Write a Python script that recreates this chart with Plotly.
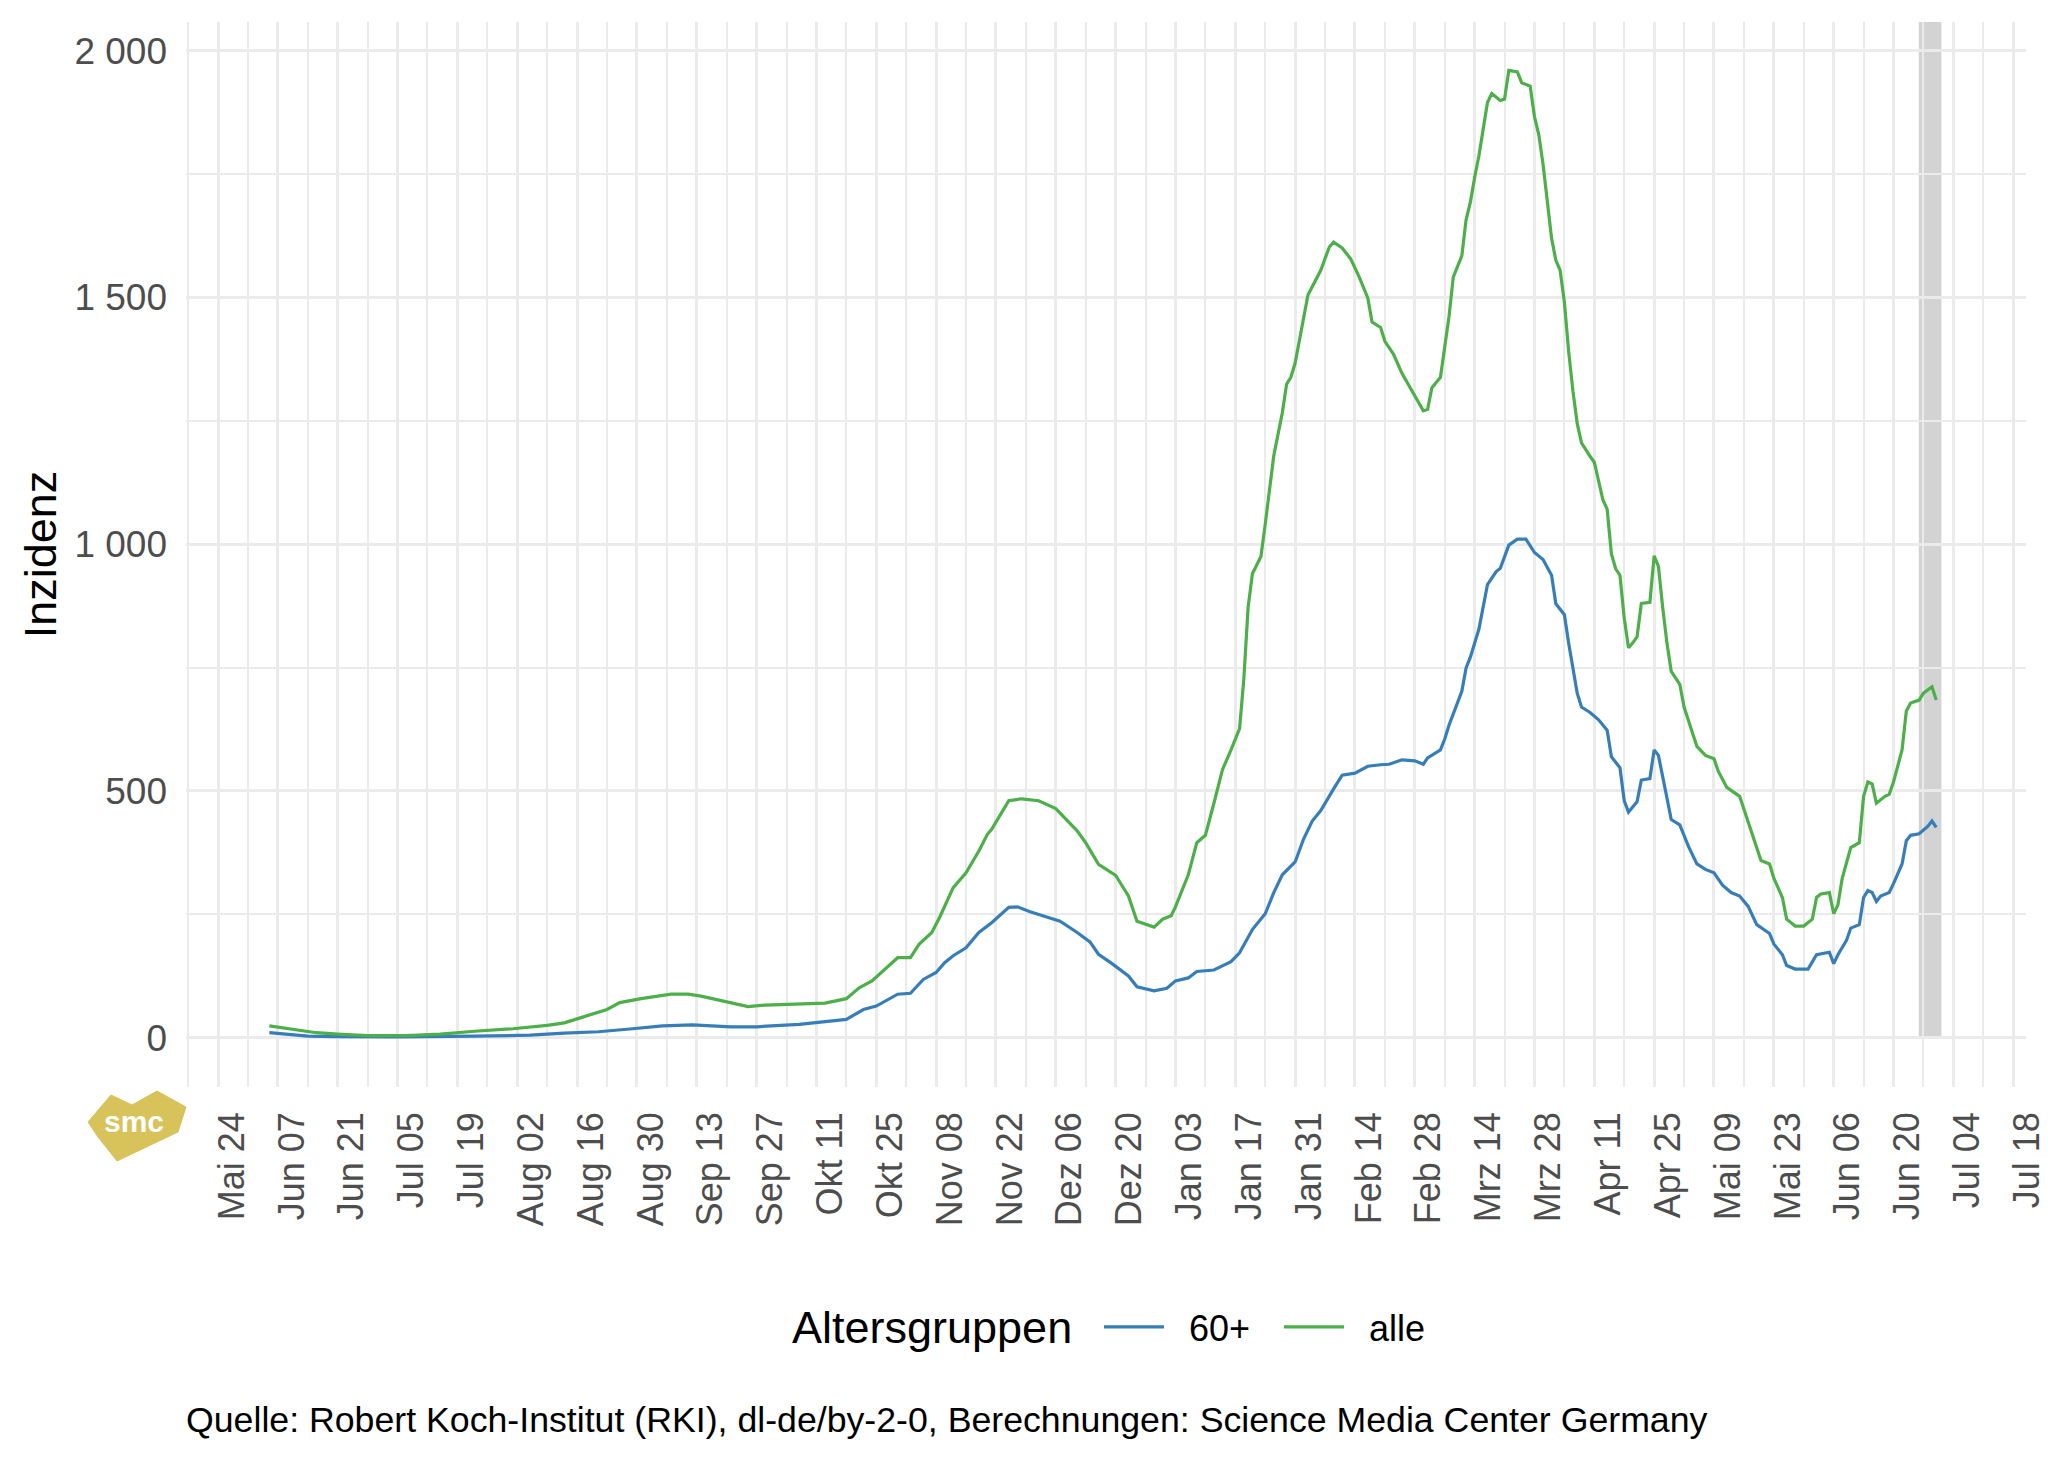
import plotly.graph_objects as go

# ---------------- data ----------------
alle_dates = [
    "2021-06-05", "2021-06-11", "2021-06-16", "2021-06-21", "2021-06-28", "2021-07-07",
    "2021-07-15", "2021-07-23", "2021-08-01", "2021-08-09", "2021-08-13", "2021-08-16",
    "2021-08-23", "2021-08-26", "2021-08-31", "2021-09-07", "2021-09-11", "2021-09-14",
    "2021-09-21", "2021-09-25", "2021-09-29", "2021-10-07", "2021-10-13", "2021-10-18",
    "2021-10-21", "2021-10-24", "2021-10-27", "2021-10-30", "2021-11-02", "2021-11-04",
    "2021-11-07", "2021-11-09", "2021-11-12", "2021-11-15", "2021-11-18", "2021-11-20",
    "2021-11-21", "2021-11-25", "2021-11-28", "2021-12-02", "2021-12-06", "2021-12-09",
    "2021-12-11", "2021-12-13", "2021-12-16", "2021-12-20", "2021-12-23", "2021-12-25",
    "2021-12-29", "2021-12-31", "2022-01-02", "2022-01-03", "2022-01-05", "2022-01-06",
    "2022-01-08", "2022-01-10", "2022-01-12", "2022-01-14", "2022-01-16", "2022-01-18",
    "2022-01-19", "2022-01-20", "2022-01-21", "2022-01-22", "2022-01-23", "2022-01-24",
    "2022-01-26", "2022-01-28", "2022-01-29", "2022-01-30", "2022-01-31", "2022-02-03",
    "2022-02-05", "2022-02-06", "2022-02-08", "2022-02-09", "2022-02-11", "2022-02-13",
    "2022-02-15", "2022-02-17", "2022-02-18", "2022-02-20", "2022-02-21", "2022-02-23",
    "2022-02-25", "2022-02-26", "2022-02-28", "2022-03-02", "2022-03-03", "2022-03-04",
    "2022-03-06", "2022-03-07", "2022-03-08", "2022-03-09", "2022-03-11", "2022-03-12",
    "2022-03-13", "2022-03-14", "2022-03-15", "2022-03-17", "2022-03-18", "2022-03-20",
    "2022-03-21", "2022-03-22", "2022-03-24", "2022-03-25", "2022-03-27", "2022-03-28",
    "2022-03-29", "2022-03-30", "2022-03-31", "2022-04-01", "2022-04-02", "2022-04-03",
    "2022-04-04", "2022-04-05", "2022-04-06", "2022-04-07", "2022-04-08", "2022-04-09",
    "2022-04-10", "2022-04-11", "2022-04-12", "2022-04-13", "2022-04-14",
    "2022-04-15", "2022-04-16", "2022-04-17", "2022-04-18", "2022-04-19", "2022-04-20",
    "2022-04-21", "2022-04-22", "2022-04-24", "2022-04-25", "2022-04-26", "2022-04-27",
    "2022-04-28", "2022-04-29", "2022-05-01", "2022-05-02", "2022-05-04", "2022-05-05",
    "2022-05-07", "2022-05-09", "2022-05-10", "2022-05-12", "2022-05-15", "2022-05-17",
    "2022-05-19", "2022-05-20", "2022-05-22", "2022-05-23", "2022-05-25", "2022-05-26",
    "2022-05-28", "2022-05-30", "2022-06-01", "2022-06-02", "2022-06-03", "2022-06-05",
    "2022-06-06", "2022-06-07", "2022-06-08", "2022-06-10", "2022-06-12", "2022-06-13",
    "2022-06-14", "2022-06-15", "2022-06-16", "2022-06-18", "2022-06-19", "2022-06-20",
    "2022-06-22", "2022-06-23", "2022-06-24", "2022-06-26", "2022-06-27", "2022-06-29",
    "2022-06-30",
]
alle_values = [
    24, 17, 10, 7, 4, 4,
    7, 13, 18, 25, 30, 38,
    57, 71, 79, 88, 88, 84,
    70, 63, 66, 68, 70, 79,
    101, 115, 139, 162, 162, 189,
    213, 247, 304, 334, 378, 412,
    422, 480, 484, 480, 464, 436,
    419, 395, 351, 329, 287, 236,
    224, 240, 247, 265, 309, 330,
    395, 410, 475, 543, 583, 626,
    727, 872, 940, 958, 975, 1040,
    1179, 1266, 1324, 1338, 1367, 1505,
    1537, 1555, 1602, 1612, 1600, 1578,
    1541, 1499, 1450, 1439, 1411, 1385,
    1346, 1331, 1302, 1270, 1273, 1317,
    1338, 1396, 1461, 1541, 1584, 1657,
    1693, 1743, 1787, 1895, 1913, 1899,
    1902, 1960, 1957, 1935, 1928, 1866,
    1830, 1770, 1700, 1620, 1575, 1555,
    1490, 1390, 1310, 1244, 1205, 1190,
    1178, 1166, 1130, 1090, 1071,
    980, 950, 937, 850, 790, 800,
    812, 880, 882, 976, 955, 872,
    799, 742, 716, 670, 619, 590,
    572, 565, 540, 507, 489, 439,
    388, 359, 352, 323, 284, 240,
    226, 226, 240, 284, 291, 294,
    251, 269, 323, 385, 395, 489,
    518, 514, 475, 489, 493, 518,
    583, 662, 678, 684, 698, 711,
    684,
]

sechzig_dates = [
    "2021-06-05", "2021-06-14", "2021-06-21", "2021-07-05", "2021-07-23", "2021-08-05",
    "2021-08-13", "2021-08-21", "2021-08-29", "2021-09-05", "2021-09-12", "2021-09-21",
    "2021-09-27", "2021-10-07", "2021-10-18", "2021-10-22", "2021-10-25", "2021-10-30",
    "2021-11-02", "2021-11-05", "2021-11-08", "2021-11-10", "2021-11-12", "2021-11-15",
    "2021-11-18", "2021-11-21", "2021-11-25", "2021-11-27", "2021-11-30", "2021-12-04",
    "2021-12-07", "2021-12-11", "2021-12-14", "2021-12-16", "2021-12-19", "2021-12-23",
    "2021-12-25", "2021-12-29", "2022-01-01", "2022-01-03", "2022-01-05", "2022-01-06",
    "2022-01-08", "2022-01-12", "2022-01-16", "2022-01-18", "2022-01-21", "2022-01-24",
    "2022-01-26", "2022-01-28", "2022-01-31", "2022-02-02", "2022-02-04", "2022-02-06",
    "2022-02-09", "2022-02-11", "2022-02-14", "2022-02-17", "2022-02-20", "2022-02-22",
    "2022-02-25", "2022-02-28", "2022-03-02", "2022-03-03", "2022-03-06", "2022-03-07",
    "2022-03-08", "2022-03-10", "2022-03-11", "2022-03-12", "2022-03-13", "2022-03-15",
    "2022-03-17", "2022-03-19", "2022-03-20", "2022-03-22", "2022-03-24", "2022-03-26",
    "2022-03-28", "2022-03-30", "2022-04-01", "2022-04-02", "2022-04-04", "2022-04-05",
    "2022-04-07", "2022-04-08", "2022-04-10", "2022-04-12", "2022-04-14", "2022-04-15",
    "2022-04-17", "2022-04-18", "2022-04-19", "2022-04-21", "2022-04-22", "2022-04-24",
    "2022-04-25", "2022-04-26", "2022-04-28", "2022-04-29", "2022-05-01", "2022-05-03",
    "2022-05-05", "2022-05-07", "2022-05-09", "2022-05-11", "2022-05-13", "2022-05-15",
    "2022-05-17", "2022-05-19", "2022-05-22", "2022-05-23", "2022-05-25", "2022-05-26",
    "2022-05-28", "2022-05-31", "2022-06-02", "2022-06-05", "2022-06-06", "2022-06-07",
    "2022-06-09", "2022-06-10", "2022-06-12", "2022-06-13", "2022-06-14", "2022-06-15",
    "2022-06-16", "2022-06-17", "2022-06-19", "2022-06-20", "2022-06-22", "2022-06-23",
    "2022-06-24", "2022-06-26", "2022-06-28", "2022-06-29", "2022-06-30",
]
sechzig_values = [
    10, 3, 2, 1.5, 3, 5,
    9, 12, 18, 24, 26, 22,
    22, 27, 37, 57, 64, 88,
    90, 118, 132, 152, 166, 182,
    213, 233, 264, 265, 255, 245,
    236, 213, 194, 169, 151, 125,
    103, 95, 100, 115, 118, 121,
    134, 137, 154, 172, 219, 251,
    294, 330, 356, 403, 439, 460,
    504, 532, 536, 550, 553, 554,
    563, 561, 554, 567, 583, 605,
    633, 677, 702, 749, 771, 828,
    918, 944, 951, 998, 1010, 1010,
    983, 969, 937, 879, 857, 799,
    698, 670, 659, 644, 623, 569,
    547, 480, 457, 478, 522, 525,
    583, 572, 482, 442, 431, 388,
    352, 341, 334, 309, 294, 287,
    266, 229, 211, 190, 168, 146,
    139, 139, 168, 173, 150, 168,
    197, 222, 229, 284, 298, 294,
    276, 287, 294, 312, 352, 399,
    410, 413, 428, 439, 426,
]

x_tick_dates = [
    "2021-05-24", "2021-06-07", "2021-06-21", "2021-07-05", "2021-07-19", "2021-08-02",
    "2021-08-16", "2021-08-30", "2021-09-13", "2021-09-27", "2021-10-11", "2021-10-25",
    "2021-11-08", "2021-11-22", "2021-12-06", "2021-12-20", "2022-01-03", "2022-01-17",
    "2022-01-31", "2022-02-14", "2022-02-28", "2022-03-14", "2022-03-28", "2022-04-11",
    "2022-04-25", "2022-05-09", "2022-05-23", "2022-06-06", "2022-06-20", "2022-07-04",
    "2022-07-18",
]
x_tick_labels = [
    "Mai 24", "Jun 07", "Jun 21", "Jul 05", "Jul 19", "Aug 02",
    "Aug 16", "Aug 30", "Sep 13", "Sep 27", "Okt 11", "Okt 25",
    "Nov 08", "Nov 22", "Dez 06", "Dez 20", "Jan 03", "Jan 17",
    "Jan 31", "Feb 14", "Feb 28", "Mrz 14", "Mrz 28", "Apr 11",
    "Apr 25", "Mai 09", "Mai 23", "Jun 06", "Jun 20", "Jul 04",
    "Jul 18",
]
x_minor_dates = [
    "2021-05-17", "2021-05-31", "2021-06-14", "2021-06-28", "2021-07-12", "2021-07-26",
    "2021-08-09", "2021-08-23", "2021-09-06", "2021-09-20", "2021-10-04", "2021-10-18",
    "2021-11-01", "2021-11-15", "2021-11-29", "2021-12-13", "2021-12-27", "2022-01-10",
    "2022-01-24", "2022-02-07", "2022-02-21", "2022-03-07", "2022-03-21", "2022-04-04",
    "2022-04-18", "2022-05-02", "2022-05-16", "2022-05-30", "2022-06-13", "2022-06-27",
    "2022-07-11",
]
y_tick_values = [0, 500, 1000, 1500, 2000]
y_tick_labels = ["0", "500", "1 000", "1 500", "2 000"]
y_minor_values = [250, 750, 1250, 1750]

band_dates = ["2022-06-25 22:00", "2022-07-01 05:00"]
x_range = ["2021-05-16 12:00", "2022-07-21 00:00"]
y_range = [-100, 2058]

series_names = ["60+", "alle"]
series_colors = ["#377EB8", "#4DAF4A"]
legend_title = "Altersgruppen"

caption = "Quelle: Robert Koch-Institut (RKI), dl-de/by-2-0, Berechnungen: Science Media Center Germany"

# ---------------- figure ----------------
W, H = 2048, 1462
ML, MR, MT, MB = 186, 22, 22, 375
PW, PH = W - ML - MR, H - MT - MB
FONT = "Liberation Sans, Arial, sans-serif"
GRID = "#EBEBEB"
NBSP = "\u00a0"


def px_to_paper(px, py):
    return (px - ML) / PW, (H - MB - py) / PH


fig = go.Figure()

fig.add_trace(go.Scatter(
    x=sechzig_dates, y=sechzig_values, mode="lines", name=NBSP * 2 + series_names[0],
    line=dict(color=series_colors[0], width=3.2),
))
fig.add_trace(go.Scatter(
    x=alle_dates, y=alle_values, mode="lines", name=NBSP * 2 + series_names[1],
    line=dict(color=series_colors[1], width=3.2),
))

# grey band (incomplete recent data)
fig.add_shape(type="rect", xref="x", yref="y",
              x0=band_dates[0], x1=band_dates[1], y0=0, y1=y_range[1],
              fillcolor="#D3D3D3", line=dict(width=0), layer="below")

# smc logo (decorative)
logo_px = [(88, 1122), (111, 1095), (132, 1105), (157, 1091), (186, 1107),
           (178, 1132), (117, 1161), (98, 1137)]
pts = [px_to_paper(a, b) for a, b in logo_px]
path = "M " + " L ".join(f"{x:.5f},{y:.5f}" for x, y in pts) + " Z"
fig.add_shape(type="path", xref="paper", yref="paper", path=path,
              fillcolor="#D8C25A", line=dict(color="#D8C25A", width=1))
lx, ly = px_to_paper(134, 1121)
fig.add_annotation(x=lx, y=ly, xref="paper", yref="paper", text="<b>smc</b>",
                   showarrow=False, font=dict(family=FONT, size=30, color="#FFFFFF"),
                   xanchor="center", yanchor="middle")

# caption
cx, cy = px_to_paper(184, 1420)
fig.add_annotation(x=cx, y=cy, xref="paper", yref="paper", text=caption,
                   showarrow=False, xanchor="left", yanchor="middle",
                   font=dict(family=FONT, size=35.7, color="#000000"))

# legend title (placed beside the legend entries)
tx, ty = px_to_paper(1074, 1327)
fig.add_annotation(x=tx, y=ty, xref="paper", yref="paper", text=legend_title,
                   showarrow=False, xanchor="right", yanchor="middle",
                   font=dict(family=FONT, size=45, color="#000000"))

lgx, lgy = px_to_paper(1099, 1327)

fig.update_layout(
    width=W, height=H,
    margin=dict(l=ML, r=MR, t=MT, b=MB, autoexpand=False),
    paper_bgcolor="white", plot_bgcolor="white",
    font=dict(family=FONT, size=36, color="#4D4D4D"),
    showlegend=True,
    legend=dict(
        orientation="h", x=lgx, xanchor="left", y=lgy, yanchor="middle",
        font=dict(family=FONT, size=36, color="#000000"),
        itemwidth=60, entrywidth=105, entrywidthmode="pixels",
        bgcolor="rgba(0,0,0,0)", traceorder="normal",
    ),
    xaxis=dict(
        type="date", range=x_range,
        tickmode="array", tickvals=x_tick_dates, ticktext=x_tick_labels,
        tickangle=-90, ticks="", ticklabelstandoff=17, ticklabelshift=14,
        tickfont=dict(family=FONT, size=36, color="#4D4D4D"),
        showgrid=True, gridcolor=GRID, gridwidth=2.6,
        minor=dict(tickmode="array", tickvals=x_minor_dates, showgrid=True,
                   gridcolor=GRID, gridwidth=1.5),
        showline=False, zeroline=False, automargin=False,
    ),
    yaxis=dict(
        range=y_range,
        tickmode="array", tickvals=y_tick_values, ticktext=y_tick_labels,
        ticks="", ticklabelstandoff=18,
        tickfont=dict(family=FONT, size=37, color="#4D4D4D"),
        showgrid=True, gridcolor=GRID, gridwidth=2.6,
        minor=dict(tickmode="array", tickvals=y_minor_values, showgrid=True,
                   gridcolor=GRID, gridwidth=1.5),
        showline=False, zeroline=False, automargin=False,
        title=dict(text="Inzidenz", font=dict(family=FONT, size=45, color="#000000"), standoff=3),
    ),
)

fig.write_html("out.html", config={"displayModeBar": False},
               post_script="document.body.style.margin='0px';")
